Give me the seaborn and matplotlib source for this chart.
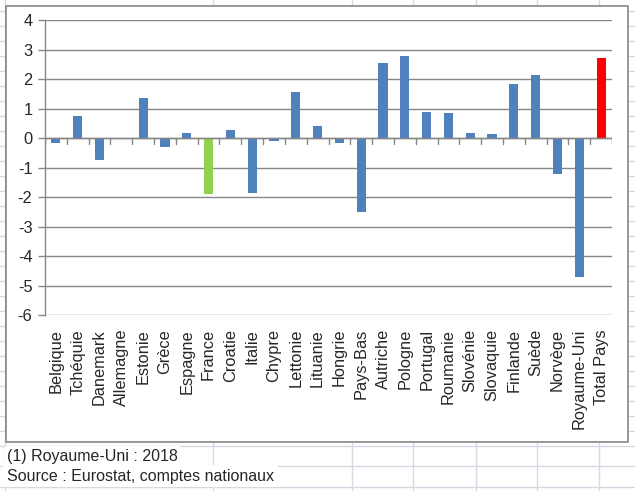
import numpy as np
import pandas as pd
import matplotlib
matplotlib.use('Agg')
import matplotlib.pyplot as plt
import seaborn as sns
from matplotlib.patches import Rectangle

pays = ['Belgique', 'Tchéquie', 'Danemark', 'Allemagne', 'Estonie', 'Grèce',
        'Espagne', 'France', 'Croatie', 'Italie', 'Chypre', 'Lettonie',
        'Lituanie', 'Hongrie', 'Pays-Bas', 'Autriche', 'Pologne', 'Portugal',
        'Roumanie', 'Slovénie', 'Slovaquie', 'Finlande', 'Suède', 'Norvège',
        'Royaume-Uni', 'Total Pays']
valeurs = [-0.16, 0.75, -0.75, 0.0, 1.36, -0.29, 0.17, -1.9, 0.27, -1.85,
           -0.09, 1.56, 0.41, -0.16, -2.5, 2.54, 2.78, 0.88, 0.85, 0.17,
           0.14, 1.83, 2.14, -1.21, -4.7, 2.71]
yticks = [4, 3, 2, 1, 0, -1, -2, -3, -4, -5, -6]
note = '(1) Royaume-Uni : 2018'
source = 'Source : Eurostat, comptes nationaux'

bleu, vert, rouge = '#4f81bd', '#92d050', '#ff0000'
couleurs = [vert if p == 'France' else rouge if p == 'Total Pays' else bleu for p in pays]

df = pd.DataFrame({'pays': pays, 'valeur': valeurs})

sns.set_style('white')
plt.rcParams['font.family'] = ['Liberation Sans', 'DejaVu Sans']

W, H = 635, 491
fig = plt.figure(figsize=(W / 100, H / 100), dpi=100)

# fond tableur
bg = fig.add_axes([0, 0, 1, 1])
bg.set_xlim(0, W)
bg.set_ylim(H, 0)
bg.axis('off')
grille = '#d4d9e4'
for yy in list(np.arange(10.7, 445, 15)) + [445.5, 466, 487]:
    bg.axhline(yy, color=grille, lw=1, zorder=1)
for xx in [4.5, 213, 352, 413, 476, 537, 599]:
    bg.axvline(xx, color=grille, lw=1, zorder=1)
bg.add_patch(Rectangle((5.5, 6), 622.5, 436, facecolor='white',
                       edgecolor='#868686', lw=1.2, zorder=5))
bg.text(7, 456, note, fontsize=11.5, va='center', ha='left', zorder=6,
        bbox=dict(facecolor='white', edgecolor='none', pad=1.5))
bg.text(7, 476, source, fontsize=11.5, va='center', ha='left', zorder=6,
        bbox=dict(facecolor='white', edgecolor='none', pad=2.5))

# graphique
ax = fig.add_axes([45 / W, 1 - 315 / H, (612 - 45) / W, (315 - 20.3) / H])
sns.barplot(data=df, x='pays', y='valeur', hue='pays', palette=couleurs,
            legend=False, width=0.42, ax=ax, saturation=1, linewidth=0)
ax.set_facecolor('none')
ax.set_ylim(-6, 4)
ax.set_xlim(-0.5, len(pays) - 0.5)
ax.set_yticks(yticks)
ax.set_yticklabels([str(t) for t in yticks], fontsize=11.8)
ax.yaxis.grid(True, color='#868686', lw=1)
ax.set_axisbelow(True)
ax.set_xlabel('')
ax.set_ylabel('')
for s in ['top', 'right', 'bottom']:
    ax.spines[s].set_visible(False)
ax.spines['left'].set_color('#868686')
ax.spines['left'].set_linewidth(1)
ax.tick_params(axis='y', length=5, width=1, color='#868686', pad=4, left=True)

# axe horizontal au niveau zéro avec graduations entre catégories
ax.axhline(0, color='#868686', lw=1, zorder=3)
for i in range(len(pays) + 1):
    ax.plot([i - 0.5, i - 0.5], [0, -0.19], color='#868686', lw=1, zorder=3)

ax.set_xticks(range(len(pays)))
ax.set_xticklabels(pays, rotation=90, fontsize=11.8)
ax.tick_params(axis='x', length=0, pad=10)

fig.savefig('out.png', dpi=100)
